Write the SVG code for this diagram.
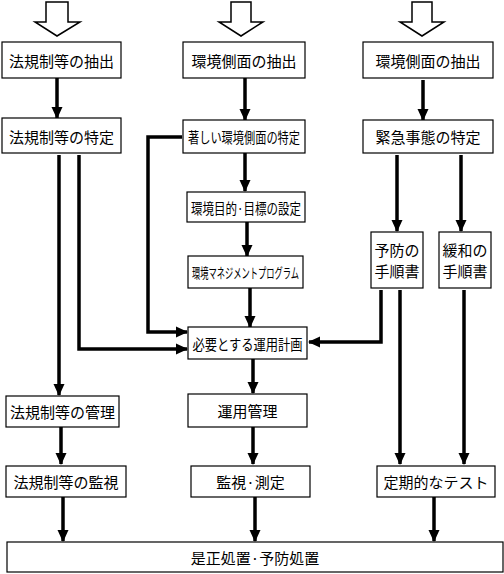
<svg xmlns="http://www.w3.org/2000/svg" width="504" height="574" viewBox="0 0 504 574">
<defs>
<style>
.box{fill:#fff;stroke:#000;stroke-width:1.2}
.t{font-family:"Noto Sans CJK JP","Noto Sans",sans-serif;font-size:15px;fill:#000;text-anchor:middle;dominant-baseline:central}
.s{font-size:14.5px}
.c{fill:none;stroke:#000;stroke-width:3.5;stroke-linejoin:miter}
.hollow{fill:#fff;stroke:#000;stroke-width:1.5;stroke-linejoin:miter}
</style>
<marker id="ah" markerUnits="userSpaceOnUse" markerWidth="12" markerHeight="12" viewBox="0 0 12 12" refX="11" refY="6" orient="auto">
<path d="M0,0.5 L12,6 L0,11.5 Z" fill="#000"/>
</marker>
</defs>
<rect width="504" height="574" fill="#fff"/>

<g id="inputs">
<polygon class="hollow" points="46,2 68,2 68,22 80,22 57,36 35,22 46,22"/>
<polygon class="hollow" points="231,2 251,2 251,22 263,22 241,36 219,22 231,22"/>
<polygon class="hollow" points="412,2 432,2 432,22 444,22 422,36 400,22 412,22"/>
</g>

<g id="connectors">
<path class="c" marker-end="url(#ah)" d="M57,78 V118"/>
<path class="c" marker-end="url(#ah)" d="M245,78 V120"/>
<path class="c" marker-end="url(#ah)" d="M423,80 V120"/>
<path class="c" marker-end="url(#ah)" d="M59,155 V395"/>
<path class="c" marker-end="url(#ah)" d="M79,155 V349 H187"/>
<path class="c" marker-end="url(#ah)" d="M182,137 H148 V332 H187"/>
<path class="c" marker-end="url(#ah)" d="M245,153 V191"/>
<path class="c" marker-end="url(#ah)" d="M247,222 V256"/>
<path class="c" marker-end="url(#ah)" d="M250,288 V327"/>
<path class="c" marker-end="url(#ah)" d="M397,155 V231"/>
<path class="c" marker-end="url(#ah)" d="M461,155 V231"/>
<path class="c" marker-end="url(#ah)" d="M381,290 V342 H309"/>
<path class="c" marker-end="url(#ah)" d="M400,290 V464"/>
<path class="c" marker-end="url(#ah)" d="M464,290 V464"/>
<path class="c" marker-end="url(#ah)" d="M253,359 V393"/>
<path class="c" marker-end="url(#ah)" d="M253,427 V464"/>
<path class="c" marker-end="url(#ah)" d="M61,427 V464"/>
<path class="c" marker-end="url(#ah)" d="M63,497 V541"/>
<path class="c" marker-end="url(#ah)" d="M255,497 V541"/>
<path class="c" marker-end="url(#ah)" d="M434,497 V541"/>
</g>

<g id="n1"><rect class="box" x="2" y="42" width="119" height="36"/><text class="t" x="61.5" y="60">法規制等の抽出</text></g>
<g id="n2"><rect class="box" x="183" y="42" width="122" height="36"/><text class="t" x="244" y="60">環境側面の抽出</text></g>
<g id="n3"><rect class="box" x="363" y="42" width="130" height="36"/><text class="t" x="428" y="60">環境側面の抽出</text></g>

<g id="n4"><rect class="box" x="2" y="118" width="119" height="35"/><text class="t" x="61.5" y="136">法規制等の特定</text></g>
<g id="n5"><rect class="box" x="183" y="120" width="122" height="33"/><text class="t s" x="244" y="136.5" textLength="112" lengthAdjust="spacingAndGlyphs">著しい環境側面の特定</text></g>
<g id="n6"><rect class="box" x="363" y="120" width="130" height="33"/><text class="t" x="428" y="136.5">緊急事態の特定</text></g>

<g id="n7"><rect class="box" x="187" y="192" width="118" height="30"/><text class="t s" x="246" y="207" textLength="110" lengthAdjust="spacingAndGlyphs">環境目的·目標の設定</text></g>
<g id="n8"><rect class="box" x="188" y="256" width="115" height="32"/><text class="t" style="font-size:14px" x="245.5" y="272" textLength="107" lengthAdjust="spacingAndGlyphs">環境マネジメントプログラム</text></g>

<g id="n9"><rect class="box" x="371" y="232" width="52" height="56"/><text class="t" x="397" y="249.5">予防の</text><text class="t" x="397" y="270">手順書</text></g>
<g id="n10"><rect class="box" x="439" y="232" width="52" height="56"/><text class="t" x="465" y="249.5">緩和の</text><text class="t" x="465" y="270">手順書</text></g>

<g id="n11"><rect class="box" x="188" y="327" width="119" height="32"/><text class="t s" x="247.5" y="343" textLength="110" lengthAdjust="spacingAndGlyphs">必要とする運用計画</text></g>

<g id="n12"><rect class="box" x="6" y="396" width="113" height="31"/><text class="t" x="62.5" y="411.5">法規制等の管理</text></g>
<g id="n13"><rect class="box" x="188" y="394" width="119" height="33"/><text class="t" x="247.5" y="410.5">運用管理</text></g>

<g id="n14"><rect class="box" x="6" y="466" width="120" height="31"/><text class="t" x="66" y="481.5">法規制等の監視</text></g>
<g id="n15"><rect class="box" x="191" y="466" width="119" height="31"/><text class="t" x="250.5" y="481.5">監視·測定</text></g>
<g id="n16"><rect class="box" x="377" y="466" width="118" height="31"/><text class="t" x="436" y="481.5">定期的なテスト</text></g>

<g id="n17"><rect class="box" x="7" y="542" width="496" height="30"/><text class="t" x="255" y="557">是正処置·予防処置</text></g>
</svg>
